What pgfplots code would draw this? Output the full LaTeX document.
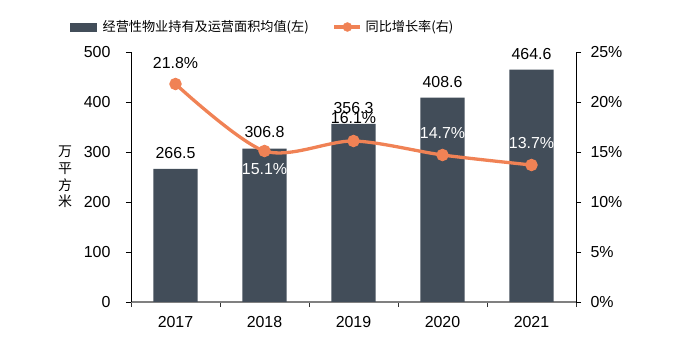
\documentclass[border=0pt]{standalone}
\usepackage{pgfplots}
\pgfplotsset{compat=1.18}
\usepackage{fontspec}
\setmainfont{Liberation Sans}
\newfontfamily\cjk{Noto Sans CJK SC}
\definecolor{barcol}{RGB}{66,77,89}
\definecolor{linecol}{RGB}{240,130,85}
\definecolor{axgray}{RGB}{128,128,128}
\begin{document}
\begin{tikzpicture}
\path[use as bounding box] (0,0) rectangle (700bp,351bp);
\pgfplotsset{every axis/.append style={scale only axis, width=445bp, height=250bp,
  at={(131bp,49bp)}, anchor=south west, xmin=-0.5, xmax=4.5,
  /pgf/number format/assume math mode=true,
  tick label style={font=\fontsize{16}{19}\selectfont},
  tick align=outside}}
\begin{axis}[
  ybar, bar width=44bp,
  ymin=0, ymax=500, ytick={0,100,...,500},
  axis x line*=bottom, axis y line*=left,
  x axis line style={draw=axgray, line width=1.3bp, -},
  y axis line style={draw=black, line width=0.8bp, -},
  xtick={0,...,4}, xticklabels={2017,2018,2019,2020,2021},
  major x tick style={draw=none},
  minor xtick={-0.5,0.5,...,4.5},
  minor x tick style={draw=black!80, line width=0.8bp},
  minor tick length=5bp, major tick length=5bp,
  y tick style={draw=black, line width=0.8bp},
  yticklabel style={xshift=-12bp},
  xticklabel style={yshift=-6bp},
  ylabel={万\\平\\方\\米},
  ylabel style={at={(axis description cs:-0.148,0.5)}, rotate=-90, anchor=center, align=center, font=\cjk\fontsize{14}{16.8}\selectfont},
]
\addplot[fill=barcol, draw=none, nodes near coords,
  nodes near coords style={font=\fontsize{16}{19}\selectfont, text=black, anchor=south, yshift=7bp},
  /pgf/number format/.cd, fixed, fixed zerofill, precision=1]
  coordinates {(0,266.5)(1,306.8)(2,356.3)(3,408.6)(4,464.6)};
\end{axis}
\begin{axis}[
  ymin=0, ymax=25, ytick={0,5,...,25},
  yticklabel={\pgfmathprintnumber{\tick}\%},
  yticklabel style={xshift=6bp},
  axis y line*=right, axis x line=none, clip=false,
  y axis line style={draw=black, line width=0.8bp, -},
  y tick style={draw=black, line width=0.8bp},
  major tick length=5bp,
  legend style={draw=none, fill=none, at={(-0.137,1.1)}, anchor=west,
    font=\cjk\fontsize{13.2}{16}\selectfont, inner sep=0pt,
    /tikz/every even column/.append style={column sep=22bp}},
  legend columns=2, legend cell align=left,
]
\addlegendimage{legend image code/.code={\fill[barcol] (0bp,-4bp) rectangle (26bp,4bp); \path (30bp,0bp);}}
\addlegendentry{经营性物业持有及运营面积均值(左)}
\addlegendimage{legend image code/.code={\draw[linecol, line width=3.3bp] (0bp,0bp) -- (26bp,0bp); \fill[linecol] (13bp,0bp) circle (4.5bp); \path (29bp,0bp);}}
\addlegendentry{同比增长率(右)}
\addplot[linecol, line width=3.3bp, smooth, mark=*, mark size=4.5bp,
  mark options={fill=linecol, draw=none},
  nodes near coords, point meta=explicit symbolic,
  visualization depends on={\thisrow{dy}\as\dy},
  visualization depends on={value \thisrow{c}\as\lc},
  every node near coord/.append style={anchor=center, yshift=\dy bp, text=\lc, font=\fontsize{16}{19}\selectfont},
  forget plot]
  table[x=x, y=y, meta=lbl] {
x y dy c lbl
0 21.8 21 black 21.8\%
1 15.1 -18 white 15.1\%
2 16.1 23 black 16.1\%
3 14.7 22 white 14.7\%
4 13.7 22 white 13.7\%
};
\end{axis}
\end{tikzpicture}
\end{document}
